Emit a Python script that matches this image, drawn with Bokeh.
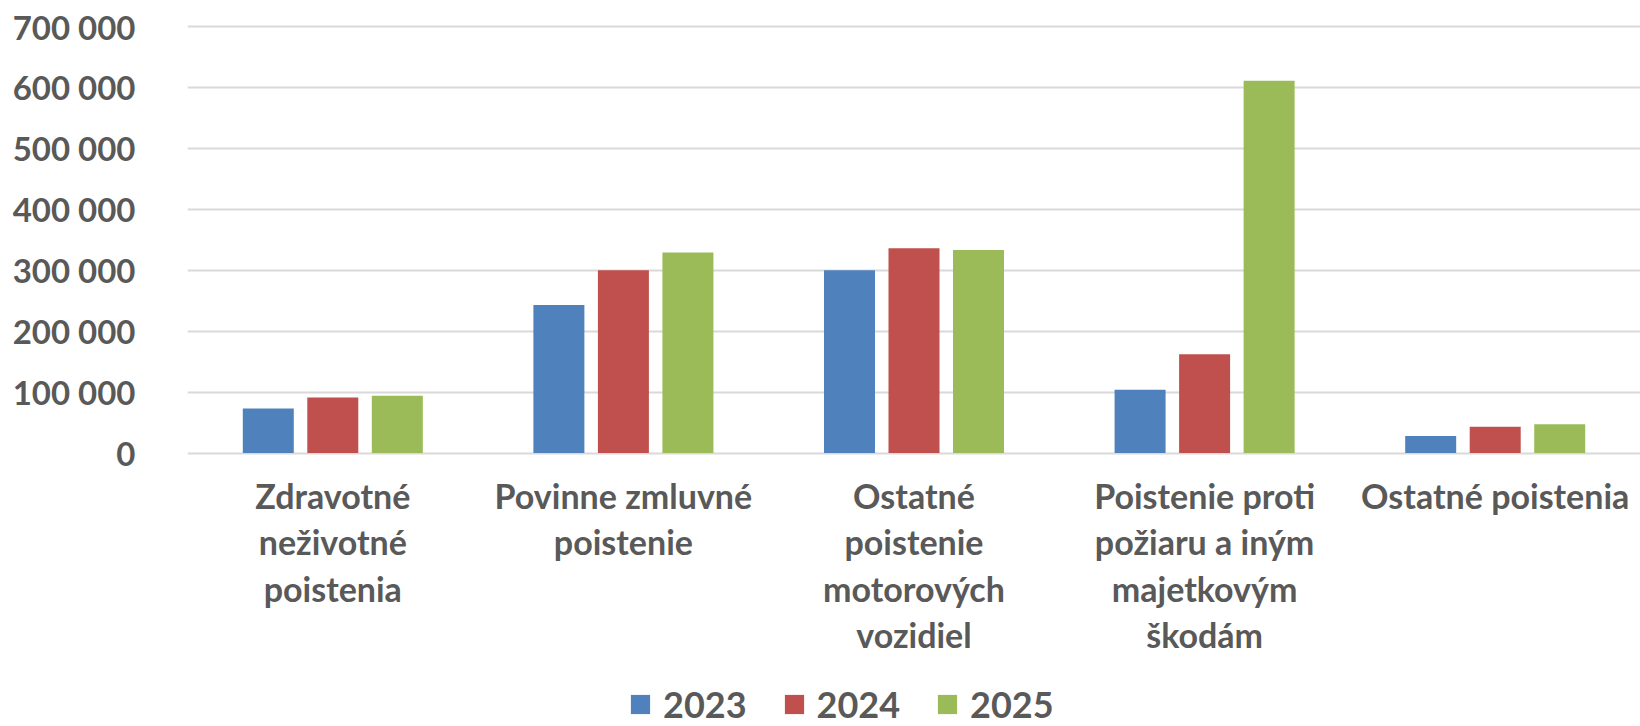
from bokeh.plotting import figure
from bokeh.models import FactorRange, Range1d, FixedTicker, ColumnDataSource, Legend, LegendItem
from bokeh.transform import dodge
from bokeh.core.properties import value
from bokeh.embed import file_html
from bokeh.resources import INLINE

categories = ["Zdravotné\nneživotné\npoistenia", "Povinne zmluvné\npoistenie",
              "Ostatné\npoistenie\nmotorových\nvozidiel",
              "Poistenie proti\npožiaru a iným\nmajetkovým\nškodám", "Ostatné poistenia"]
years = ["2023", "2024", "2025"]
v2023 = [73000, 243000, 300000, 104000, 28000]
v2024 = [91000, 300000, 336000, 162000, 43000]
v2025 = [94000, 329000, 333000, 611000, 47000]
y_ticks = [0, 100000, 200000, 300000, 400000, 500000, 600000, 700000]
y_tick_labels = ["0", "100 000", "200 000", "300 000", "400 000", "500 000", "600 000", "700 000"]

colors = ["#4F81BD", "#C0504D", "#9BBB59"]
FONT = "Lato"
TXT = "#595959"

# layout: 0..700 000 spans 426.5 px; 4 px of headroom above, 273.5 px below zero
AX_MAX = 700000
PX = AX_MAX / 426.5
Y_TOP = AX_MAX + 4 * PX
Y_BOTTOM = -273.5 * PX

src = ColumnDataSource(dict(cat=categories, y2023=v2023, y2024=v2024, y2025=v2025))

p = figure(x_range=FactorRange(factors=categories, range_padding=0, factor_padding=0),
           y_range=Range1d(Y_BOTTOM, Y_TOP),
           width=1640, height=726, output_backend="svg", toolbar_location=None,
           min_border_left=187, min_border_right=0, min_border_top=22, min_border_bottom=0)
p.outline_line_color = None
p.background_fill_color = "white"
p.xaxis.visible = False

offsets = [-0.222, 0.0, 0.222]
renderers = []
for yr, off, c in zip(years, offsets, colors):
    r = p.vbar(x=dodge("cat", off, range=p.x_range), top="y" + yr, bottom=0, width=0.1755,
               source=src, fill_color=c, line_color=None)
    renderers.append(r)

# category labels under the zero line
p.text(x="cat", y=0, text="cat", source=src, y_offset=21.5,
       text_align="center", text_baseline="top",
       text_font=value(FONT), text_font_style="bold", text_font_size="34px",
       text_color=TXT, text_line_height=1.137)

# y axis
yt = FixedTicker(ticks=y_ticks)
p.yaxis.ticker = yt
p.ygrid.ticker = yt
p.yaxis.major_label_overrides = {t: l for t, l in zip(y_ticks, y_tick_labels)}
p.yaxis.axis_line_color = None
p.yaxis.major_tick_line_color = None
p.yaxis.minor_tick_line_color = None
p.yaxis.major_tick_out = 0
p.yaxis.major_tick_in = 0
p.yaxis.major_label_standoff = 52
p.yaxis.major_label_text_font = FONT
p.yaxis.major_label_text_font_style = "bold"
p.yaxis.major_label_text_font_size = "33px"
p.yaxis.major_label_text_color = TXT
p.ygrid.grid_line_color = "#D9D9D9"
p.ygrid.grid_line_width = 2
p.xgrid.grid_line_color = None

legend = Legend(items=[LegendItem(label=yr, renderers=[r]) for yr, r in zip(years, renderers)],
                location=(441, 0), orientation="horizontal",
                padding=0, margin=0, spacing=35, label_standoff=11,
                glyph_width=24, glyph_height=24, label_height=24,
                border_line_color=None, background_fill_alpha=0,
                label_text_font=FONT, label_text_font_style="bold",
                label_text_font_size="36px", label_text_color=TXT,
                label_text_baseline="middle")
p.add_layout(legend)

open("out.html", "w").write(file_html(p, INLINE))
